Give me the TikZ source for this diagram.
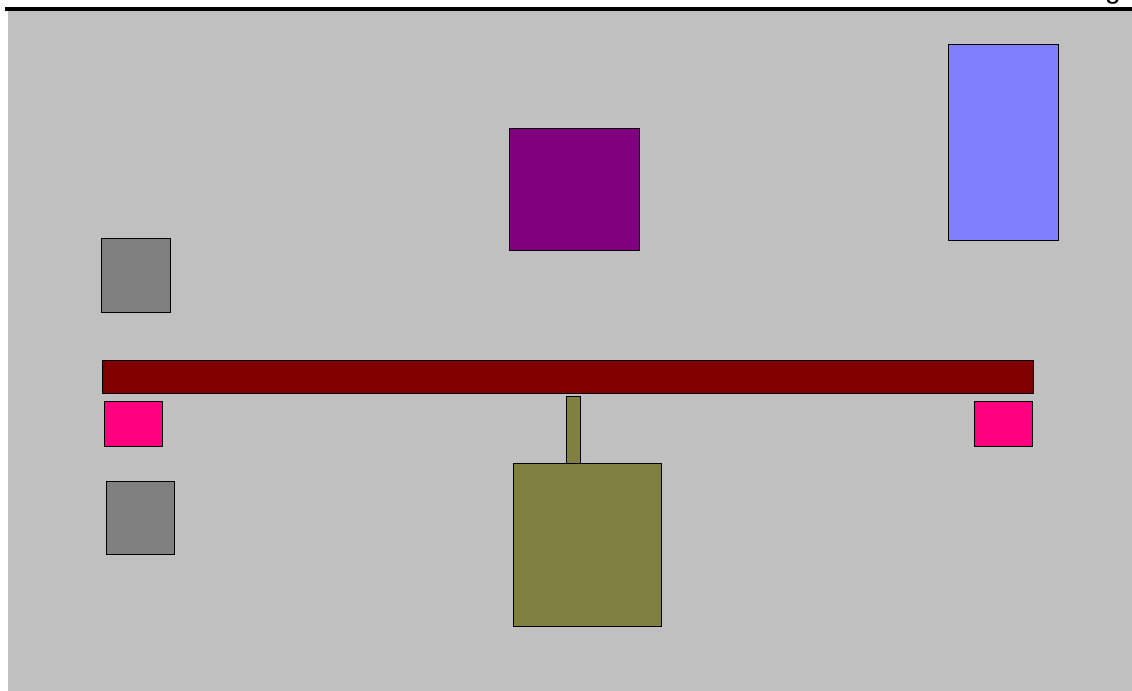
\documentclass[tikz,border=0pt]{standalone}
\usepackage{fontspec}
\setmainfont{Liberation Sans}
\usepackage{xcolor}
\definecolor{panelc}{HTML}{C0C0C0}
\definecolor{purplec}{HTML}{800080}
\definecolor{bluec}{HTML}{8080FF}
\definecolor{greyc}{HTML}{808080}
\definecolor{barc}{HTML}{800000}
\definecolor{pinkc}{HTML}{FF0080}
\definecolor{olivec}{HTML}{808040}
\tikzset{
  block/.style={draw=black, line width=0.6pt},
}

\begin{document}
\begin{tikzpicture}[x=0.025cm, y=-0.025cm]
  \useasboundingbox (0,0) rectangle (1132,691);
  % panel
  \fill[panelc] (8,11) rectangle (1132,691);
  \draw[line width=2.2pt] (5,9) -- (1132,9);
  \node[anchor=base, inner sep=0pt, font=\fontsize{20}{22}\selectfont] (tag) at (1113,-2) {g};
  % top row
  \draw[block, fill=purplec] (509,128) rectangle (639,250);
  \draw[block, fill=bluec] (948,44) rectangle (1058,240);
  \draw[block, fill=greyc] (101,238) rectangle (170,312);
  % bar with feet
  \draw[block, fill=barc] (102,360) rectangle (1033,393);
  \draw[block, fill=pinkc] (104,401) rectangle (162,446);
  \draw[block, fill=pinkc] (974,401) rectangle (1032,446);
  % lower part
  \draw[block, fill=greyc] (106,481) rectangle (174,554);
  \draw[block, fill=olivec] (566,396) rectangle (580,463);
  \draw[block, fill=olivec] (513,463) rectangle (661,626);
\end{tikzpicture}
\end{document}
